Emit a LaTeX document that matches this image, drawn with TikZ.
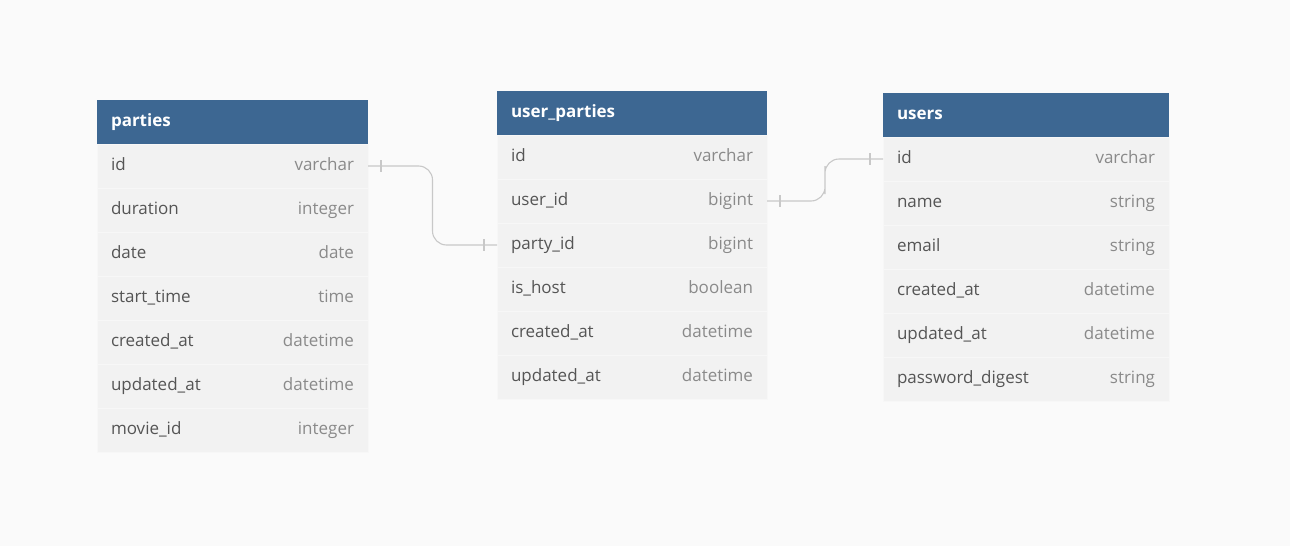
\documentclass[tikz,border=0pt]{standalone}
\usepackage{fontspec}
\setmainfont{Open Sans}
\usetikzlibrary{calc}
\definecolor{bg}{HTML}{FAFAFA}
\definecolor{hdrblue}{HTML}{3D6792}
\definecolor{rowfill}{HTML}{F2F2F2}
\definecolor{rowline}{HTML}{F7F7F7}
\definecolor{fieldc}{HTML}{555555}
\definecolor{typec}{HTML}{8A8A8A}
\definecolor{connc}{HTML}{C8C8C8}
\newcommand{\fld}[2]{{\color{fieldc}#1}\hfill{\color{typec}#2}}
\begin{document}
\begin{tikzpicture}[x=1pt,y=-1pt,
  hdr/.style={fill=hdrblue, anchor=north west, minimum height=44pt, inner xsep=14pt, inner ysep=0pt, outer sep=0pt,
    text height=12.5pt, text depth=3.5pt, font=\fontsize{17}{20}\selectfont\bfseries, text=white, align=left},
  row/.style={fill=rowfill, draw=rowline, line width=0.8pt, anchor=north, minimum height=44pt, inner xsep=14pt, inner ysep=0pt, outer sep=0pt,
    text height=12.5pt, text depth=3.5pt, font=\fontsize{17}{20}\selectfont, align=left},
  conn/.style={draw=connc, line width=1.1pt},
  tick/.style={draw=connc, line width=1.1pt}
]
\useasboundingbox[fill=bg] (0,0) rectangle (1290,546);

% parties
\node[hdr, text width=243pt] (p-h) at (97,100) {parties};
\node[row, text width=243pt] (p-id) at (p-h.south) {\fld{id}{varchar}};
\node[row, text width=243pt] (p-dur) at (p-id.south) {\fld{duration}{integer}};
\node[row, text width=243pt] (p-date) at (p-dur.south) {\fld{date}{date}};
\node[row, text width=243pt] (p-st) at (p-date.south) {\fld{start\_time}{time}};
\node[row, text width=243pt] (p-ca) at (p-st.south) {\fld{created\_at}{datetime}};
\node[row, text width=243pt] (p-ua) at (p-ca.south) {\fld{updated\_at}{datetime}};
\node[row, text width=243pt] (p-mid) at (p-ua.south) {\fld{movie\_id}{integer}};

% user_parties
\node[hdr, text width=242pt] (up-h) at (497,91) {user\_parties};
\node[row, text width=242pt] (up-id) at (up-h.south) {\fld{id}{varchar}};
\node[row, text width=242pt] (up-uid) at (up-id.south) {\fld{user\_id}{bigint}};
\node[row, text width=242pt] (up-pid) at (up-uid.south) {\fld{party\_id}{bigint}};
\node[row, text width=242pt] (up-host) at (up-pid.south) {\fld{is\_host}{boolean}};
\node[row, text width=242pt] (up-ca) at (up-host.south) {\fld{created\_at}{datetime}};
\node[row, text width=242pt] (up-ua) at (up-ca.south) {\fld{updated\_at}{datetime}};

% users
\node[hdr, text width=258pt] (u-h) at (883,93) {users};
\node[row, text width=258pt] (u-id) at (u-h.south) {\fld{id}{varchar}};
\node[row, text width=258pt] (u-name) at (u-id.south) {\fld{name}{string}};
\node[row, text width=258pt] (u-email) at (u-name.south) {\fld{email}{string}};
\node[row, text width=258pt] (u-ca) at (u-email.south) {\fld{created\_at}{datetime}};
\node[row, text width=258pt] (u-ua) at (u-ca.south) {\fld{updated\_at}{datetime}};
\node[row, text width=258pt] (u-pd) at (u-ua.south) {\fld{password\_digest}{string}};

% connectors
\draw[conn, rounded corners=14pt] (p-id.east) -| ($(p-id.east)!0.5!(up-pid.west)$) |- (up-pid.west);
\draw[tick] ($(p-id.east)+(13,-6)$) -- ++(0,12);
\draw[tick] ($(up-pid.west)+(-13,-6)$) -- ++(0,12);

\draw[conn, rounded corners=14pt] (up-uid.east) -| ($(up-uid.east)!0.5!(u-id.west)$) |- (u-id.west);
\draw[tick] ($(up-uid.east)+(13,-6)$) -- ++(0,12);
\draw[tick] ($(u-id.west)+(-13,-6)$) -- ++(0,12);
\end{tikzpicture}
\end{document}
